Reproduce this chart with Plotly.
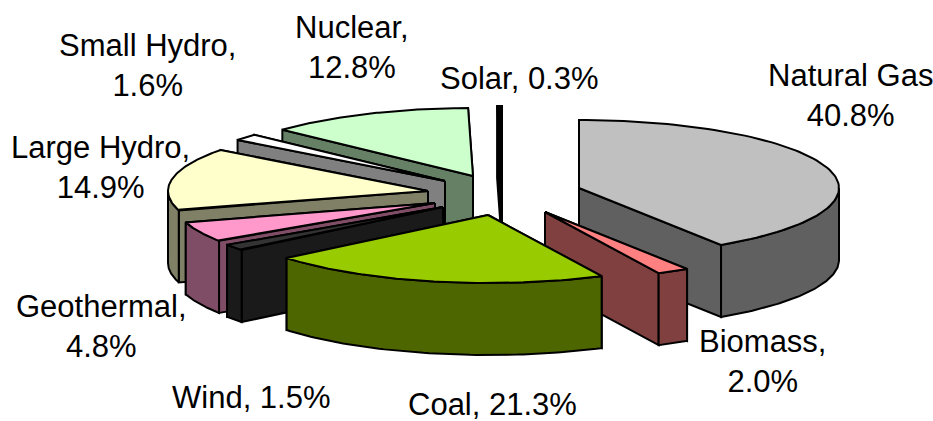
import numpy as np
import plotly.graph_objects as go

# Data, clockwise from 12 o'clock
names = ["Natural Gas", "Biomass", "Coal", "Wind", "Geothermal",
         "Large Hydro", "Small Hydro", "Nuclear", "Solar"]
values = [40.8, 2.0, 21.3, 1.5, 4.8, 14.9, 1.6, 12.8, 0.3]
label_formats = ["{n}<br>{v}%", "{n},<br>{v}%", "{n}, {v}%", "{n}, {v}%", "{n},<br>{v}%",
                 "{n},<br>{v}%", "{n},<br>{v}%", "{n},<br>{v}%", "{n}, {v}%"]

# Style: colours, explosion of each slice, label anchors
top_colors = ["#C0C0C0", "#FF8080", "#99CC00", "#333333", "#FF99CC",
              "#FFFFCC", "#FFFFFF", "#CCFFCC", "#000000"]
side_colors = ["#606060", "#804040", "#4D6600", "#1A1A1A", "#804D66",
               "#808066", "#808080", "#668066", "#000000"]
CENTER = (490, 195)
pull_x = [89, 55, -2, -47, -55, -62, -45, -17, 12]
pull_y = [-7, 17, 20, 12, 8, -4, -14, -19, -21]
label_x = [850, 762, 492, 251, 101, 100, 147, 352, 519]
label_y = [95, 361, 404, 397, 326, 167, 65, 47, 78]
RX, RY, DEPTH = 260, 68, 72
draw_order = ["Solar", "Nuclear", "Small Hydro", "Large Hydro", "Geothermal",
              "Wind", "Natural Gas", "Biomass", "Coal"]

total = sum(values)
edges = np.concatenate([[0], np.cumsum(values)]) / total * 2 * np.pi


def rim(t, cx, cy):
    return cx + RX * np.sin(t), cy - RY * np.cos(t)


def poly(fig, xs, ys, color, name):
    fig.add_trace(go.Scatter(
        x=list(xs) + [xs[0]], y=list(ys) + [ys[0]], mode="lines", fill="toself",
        fillcolor=color, line=dict(color="black", width=2),
        name=name, hoverinfo="name", showlegend=False))


fig = go.Figure()
for name in draw_order:
    i = names.index(name)
    t0, t1 = edges[i], edges[i + 1]
    cx, cy = CENTER[0] + pull_x[i], CENTER[1] + pull_y[i]
    # radial walls, rear edge first
    for t in sorted([t0, t1], key=lambda a: rim(a, cx, cy)[1]):
        ex, ey = rim(t, cx, cy)
        poly(fig, [cx, ex, ex, cx], [cy, ey, ey + DEPTH, cy + DEPTH], side_colors[i], name)
    # outer wall: only the part of the rim that faces the viewer
    a0, a1 = max(t0, np.pi / 2), min(t1, 3 * np.pi / 2)
    if a1 > a0:
        ts = np.linspace(a0, a1, 60)
        ax, ay = rim(ts, cx, cy)
        poly(fig, np.concatenate([ax, ax[::-1]]), np.concatenate([ay, ay[::-1] + DEPTH]),
             side_colors[i], name)
    # top face
    ts = np.linspace(t0, t1, 90)
    ax, ay = rim(ts, cx, cy)
    poly(fig, np.concatenate([[cx], ax]), np.concatenate([[cy], ay]), top_colors[i], name)

for n, v, fmt, lx, ly in zip(names, values, label_formats, label_x, label_y):
    fig.add_annotation(x=lx, y=ly, xref="x", yref="y", showarrow=False,
                       text=fmt.format(n=n, v=f"{v:.1f}"), align="center",
                       font=dict(family="Liberation Sans, Arial, sans-serif", size=31, color="black"))

fig.update_xaxes(visible=False, range=[0, 933], fixedrange=True)
fig.update_yaxes(visible=False, range=[421, 0], fixedrange=True)
fig.update_layout(width=933, height=421, margin=dict(l=0, r=0, t=0, b=0),
                  paper_bgcolor="white", plot_bgcolor="white", showlegend=False)
fig.write_html("out.html", config={"displayModeBar": False},
               post_script="document.body.style.margin='0';document.body.style.overflow='hidden';")
